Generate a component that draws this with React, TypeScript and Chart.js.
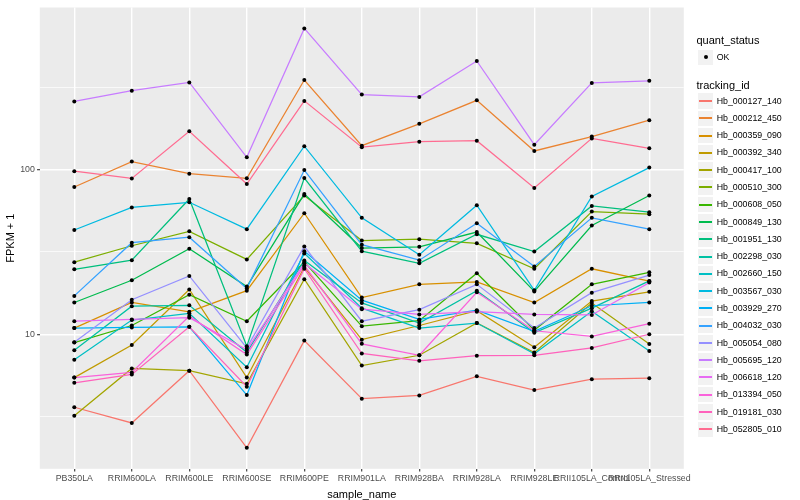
import React, { useEffect, useRef } from "react";
import { Chart, registerables } from "chart.js";

Chart.register(...registerables);

// ---------- data ----------
const categories = [
  "PB350LA",
  "RRIM600LA",
  "RRIM600LE",
  "RRIM600SE",
  "RRIM600PE",
  "RRIM901LA",
  "RRIM928BA",
  "RRIM928LA",
  "RRIM928LE",
  "RRII105LA_Control",
  "RRII105LA_Stressed",
];

const seriesNames = [
  "Hb_000127_140",
  "Hb_000212_450",
  "Hb_000359_090",
  "Hb_000392_340",
  "Hb_000417_100",
  "Hb_000510_300",
  "Hb_000608_050",
  "Hb_000849_130",
  "Hb_001951_130",
  "Hb_002298_030",
  "Hb_002660_150",
  "Hb_003567_030",
  "Hb_003929_270",
  "Hb_004032_030",
  "Hb_005054_080",
  "Hb_005695_120",
  "Hb_006618_120",
  "Hb_013394_050",
  "Hb_019181_030",
  "Hb_052805_010",
];

const hb000127_140 = [3.6, 2.89, 6.0, 2.04, 9.15, 4.06, 4.25, 5.55, 4.58, 5.33, 5.41];
const hb000212_450 = [78.5, 112, 94.6, 88.6, 351, 140, 190, 264, 130, 159, 200];
const hb000359_090 = [10.9, 15.6, 13.7, 18.4, 54.4, 16.7, 20.1, 20.8, 15.6, 25, 21.0];
const hb000392_340 = [5.45, 8.6, 18.7, 5.46, 25.6, 9.27, 11.3, 13.9, 8.34, 15.9, 18.1];
const hb000417_100 = [3.2, 6.2, 6.0, 5.0, 21.6, 6.45, 7.45, 11.7, 7.74, 15.5, 8.73];
const hb000510_300 = [27.4, 34.5, 42.2, 28.5, 69.6, 37.1, 37.8, 35.7, 25.0, 55.7, 53.7];
const hb000608_050 = [8.9, 11.3, 17.4, 12.0, 27.5, 11.2, 12.1, 23.5, 10.6, 20.1, 23.8];
const hb000849_130 = [15.6, 21.3, 33.1, 19.5, 71.1, 33.4, 34.0, 41.8, 18.2, 45.8, 69.7];
const hb001951_130 = [24.8, 28.2, 66.4, 8.45, 89, 32.0, 27.0, 40.5, 31.8, 60.2, 55.2];
const hb002298_030 = [8.0, 14.8, 15.0, 7.77, 28.1, 15.5, 11.7, 18.4, 10.2, 14.4, 21.1];
const hb002660_150 = [7.0, 12.2, 13.4, 6.3, 31.0, 14.4, 10.9, 11.7, 7.6, 13.8, 7.92];
const hb003567_030 = [43, 59, 63.4, 43.5, 139, 51, 30.4, 60.8, 18.5, 68.7, 103];
const hb003929_270 = [10.9, 11.0, 11.1, 4.27, 32, 16.1, 12.3, 14.0, 10.4, 14.9, 15.6];
const hb004032_030 = [17.1, 36, 38.9, 19.0, 99.5, 35, 28.2, 47.3, 25.8, 51, 43.5];
const hb005054_080 = [8.93, 16.2, 22.6, 8.26, 34.2, 12.0, 14.1, 20.1, 10.9, 17.9, 22.9];
const hb005695_120 = [260, 302, 339, 119, 722, 286, 277, 458, 142, 337, 347];
const hb006618_120 = [12.0, 12.3, 12.6, 8.03, 27.0, 14.2, 13.2, 13.7, 13.2, 13.1, 20.6];
const hb013394_050 = [5.45, 5.86, 12.9, 7.53, 26.2, 8.74, 7.45, 18.0, 10.5, 9.7, 11.6];
const hb019181_030 = [5.07, 5.7, 11.1, 4.8, 25.0, 7.64, 6.89, 7.41, 7.45, 8.26, 10.0];
const hb052805_010 = [98, 88.5, 171, 81.8, 262, 137, 148, 150, 77.4, 155, 135];

const seriesValues = [
  hb000127_140,
  hb000212_450,
  hb000359_090,
  hb000392_340,
  hb000417_100,
  hb000510_300,
  hb000608_050,
  hb000849_130,
  hb001951_130,
  hb002298_030,
  hb002660_150,
  hb003567_030,
  hb003929_270,
  hb004032_030,
  hb005054_080,
  hb005695_120,
  hb006618_120,
  hb013394_050,
  hb019181_030,
  hb052805_010,
];

const yTickLabels = [10, 100];
const statusLabels = ["OK"];

// ggplot2 hue palette, 20 levels
const palette = [
  "#F8766D", "#EA8331", "#D89000", "#C09B00", "#A3A500",
  "#7CAE00", "#39B600", "#00BB4E", "#00BF7D", "#00C1A3",
  "#00BFC4", "#00BAE0", "#00B0F6", "#35A2FF", "#9590FF",
  "#C77CFF", "#E76BF3", "#FA62DB", "#FF62BC", "#FF6C91",
];

// ---------- layout ----------
const W = 800;
const H = 500;
const PANEL_LEFT = 39.8;
const PANEL_RIGHT = 683.8;
const PANEL_TOP = 5;
const PANEL_BOTTOM = 468.8;
const FONT = '"Liberation Sans", Arial, Helvetica, sans-serif';

export default function App() {
  const canvasRef = useRef<HTMLCanvasElement>(null);

  useEffect(() => {
    document.body.style.margin = "0";
    const canvas = canvasRef.current;
    if (!canvas) return;

    const all = seriesValues.flat();
    const lmin = Math.log10(Math.min(...all));
    const lmax = Math.log10(Math.max(...all));
    const expand = (lmax - lmin) * 0.05;
    const yMin = Math.pow(10, lmin - expand);
    const yMax = Math.pow(10, lmax + expand);

    const majors = yTickLabels.slice();
    const ext = [majors[0] / 10, ...majors, majors[majors.length - 1] * 10];
    const minors: number[] = [];
    for (let i = 0; i < ext.length - 1; i++) {
      const m = Math.sqrt(ext[i] * ext[i + 1]);
      if (m >= yMin && m <= yMax) minors.push(m);
    }
    const yTicks = [...minors, ...majors].sort((a, b) => a - b);
    const isMajor = (v: number) => majors.some((m) => Math.abs(m - v) < 1e-9);

    const n = seriesValues.length;
    const lineSets = seriesValues.map((vals, si) => ({
      type: "line" as const,
      label: seriesNames[si],
      data: vals.map((v, i) => ({ x: i, y: v })),
      borderColor: palette[si],
      backgroundColor: palette[si],
      borderWidth: 1.25,
      pointRadius: 0,
      fill: false,
      tension: 0,
      order: 2 * n - si,
    }));
    const pointSet = {
      type: "scatter" as const,
      label: "quant_status",
      data: seriesValues.flatMap((vals) => vals.map((v, i) => ({ x: i, y: v }))),
      pointRadius: 2,
      pointBackgroundColor: "#000000",
      pointBorderWidth: 0,
      borderColor: "#000000",
      backgroundColor: "#000000",
      showLine: false,
      order: 0,
    };

    const bgPlugin = {
      id: "panelBg",
      beforeDraw(chart: any) {
        const { ctx, chartArea: a } = chart;
        ctx.save();
        ctx.fillStyle = "#EBEBEB";
        ctx.fillRect(a.left, a.top, a.right - a.left, a.bottom - a.top);
        ctx.restore();
      },
    };

    const chart = new Chart(canvas, {
      type: "line",
      data: { datasets: [...lineSets, pointSet] as any },
      plugins: [bgPlugin],
      options: {
        animation: false,
        responsive: false,
        events: [],
        layout: {
          padding: { left: 0, right: W - PANEL_RIGHT, top: PANEL_TOP, bottom: 0 },
        },
        plugins: {
          legend: { display: false },
          tooltip: { enabled: false },
        },
        scales: {
          x: {
            type: "linear",
            min: -0.6,
            max: categories.length - 1 + 0.6,
            afterBuildTicks: (s: any) => {
              s.ticks = categories.map((_, i) => ({ value: i }));
            },
            afterFit: (s: any) => {
              s.height = H - PANEL_BOTTOM;
              s.paddingLeft = 0;
              s.paddingRight = 0;
            },
            ticks: {
              autoSkip: false,
              maxRotation: 0,
              minRotation: 0,
              padding: 1.3,
              color: "#4D4D4D",
              font: { family: FONT, size: 8.8 },
              callback: (v: any) => categories[Number(v)] ?? "",
            },
            grid: {
              color: "#FFFFFF",
              lineWidth: 1.4,
              tickLength: 2.75,
              tickColor: "#333333",
              tickWidth: 1.1,
            },
            border: { display: false },
            title: {
              display: true,
              text: "sample_name",
              color: "#000000",
              font: { family: FONT, size: 11, lineHeight: 1 },
              padding: { top: 3.7, bottom: 0 },
            },
          },
          y: {
            type: "logarithmic",
            min: yMin,
            max: yMax,
            afterBuildTicks: (s: any) => {
              s.ticks = yTicks.map((v) => ({ value: v }));
            },
            afterFit: (s: any) => {
              s.width = PANEL_LEFT;
            },
            ticks: {
              autoSkip: false,
              padding: 2.2,
              color: "#4D4D4D",
              font: { family: FONT, size: 8.8 },
              callback: (v: any) => (isMajor(Number(v)) ? String(Number(v)) : ""),
            },
            grid: {
              color: "#FFFFFF",
              lineWidth: (ctx: any) => (ctx.tick && isMajor(ctx.tick.value) ? 1.4 : 0.7),
              tickLength: 2.75,
              tickColor: (ctx: any) =>
                ctx.tick && isMajor(ctx.tick.value) ? "#333333" : "rgba(0,0,0,0)",
              tickWidth: 1.1,
            },
            border: { display: false },
            title: {
              display: true,
              text: "FPKM + 1",
              color: "#000000",
              font: { family: FONT, size: 11, lineHeight: 1 },
              padding: { top: 5.5, bottom: 0 },
            },
          },
        },
      } as any,
    });

    return () => chart.destroy();
  }, []);

  const KEY = 17.28;
  const KEY_LEFT = 697;
  const TEXT_LEFT = 716.7;
  const firstKeyCenter = 101;
  const okCenter = 57.2;

  const textStyle = (centerY: number, size: number): React.CSSProperties => ({
    position: "absolute",
    left: TEXT_LEFT,
    top: centerY - size / 2,
    height: size,
    lineHeight: `${size}px`,
    fontSize: size,
    fontFamily: FONT,
    color: "#000000",
    whiteSpace: "nowrap",
  });

  const keyBox = (cy: number): React.CSSProperties => ({
    position: "absolute",
    left: KEY_LEFT,
    top: cy - KEY / 2,
    width: KEY,
    height: KEY,
    background: "#F2F2F2",
    boxSizing: "border-box",
    border: "0.5px solid #FFFFFF",
  });

  return (
    <div style={{ position: "relative", width: W, height: H, background: "#FFFFFF" }}>
      <canvas ref={canvasRef} width={W} height={H} style={{ display: "block", width: W, height: H }} />
      <div style={{ ...textStyle(40.7, 11), left: 696.5 }}>quant_status</div>
      {statusLabels.map((lab, i) => {
        const cy = okCenter + i * KEY;
        return (
          <React.Fragment key={lab}>
            <div style={keyBox(cy)} />
            <div
              style={{
                position: "absolute",
                left: Math.round(KEY_LEFT + KEY / 2) - 2,
                top: Math.round(cy) - 2,
                width: 4,
                height: 4,
                borderRadius: "50%",
                background: "#000000",
              }}
            />
            <div style={textStyle(cy, 8.8)}>{lab}</div>
          </React.Fragment>
        );
      })}
      <div style={{ ...textStyle(85, 11), left: 696.5 }}>tracking_id</div>
      {seriesNames.map((name, i) => {
        const cy = firstKeyCenter + i * KEY;
        return (
          <React.Fragment key={name}>
            <div style={keyBox(cy)} />
            <div
              style={{
                position: "absolute",
                left: KEY_LEFT + 2,
                width: 13,
                top: Math.round(cy) - 1,
                height: 2,
                background: palette[i],
              }}
            />
            <div style={textStyle(cy, 8.8)}>{name}</div>
          </React.Fragment>
        );
      })}
    </div>
  );
}
